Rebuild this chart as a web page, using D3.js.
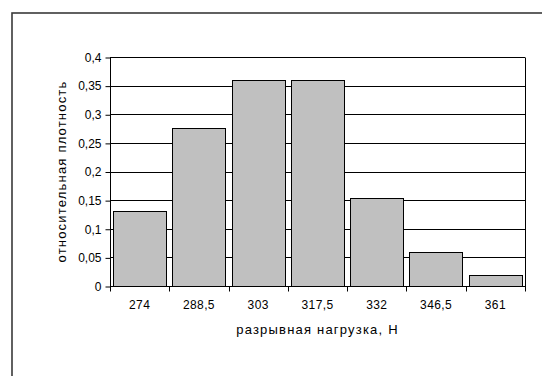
<!DOCTYPE html>
<html>
<head>
<meta charset="utf-8">
<script src="https://cdn.jsdelivr.net/npm/d3@7"></script>
<style>
  html, body { margin: 0; padding: 0; background: #fff; }
  svg { display: block; }
  text { font-family: "Liberation Sans", Arial, sans-serif; fill: #000; }
</style>
</head>
<body>
<svg id="chart" width="542" height="376"></svg>
<script>
// Histogram of breaking load: relative density per class midpoint
const categories = ["274", "288,5", "303", "317,5", "332", "346,5", "361"];
const density = [0.131, 0.276, 0.36, 0.36, 0.153, 0.059, 0.019];
const yTickValues = [0, 0.05, 0.1, 0.15, 0.2, 0.25, 0.3, 0.35, 0.4];
const yTickLabels = ["0", "0,05", "0,1", "0,15", "0,2", "0,25", "0,3", "0,35", "0,4"];
const xTitle = "разрывная нагрузка, Н";
const yTitle = "относительная плотность";

const svg = d3.select("#chart");
const plot = { left: 110, right: 525, top: 57, bottom: 286 };

// Outer chart frame (runs past the right and bottom edges)
svg.append("rect")
  .attr("x", 12).attr("y", 13)
  .attr("width", 700).attr("height", 500)
  .attr("fill", "#fff")
  .attr("stroke", "#3a3a3a").attr("stroke-width", 1.6);

const x = d3.scaleBand()
  .domain(categories)
  .range([plot.left, plot.right])
  .paddingInner(0.1)
  .paddingOuter(0.05);

const y = d3.scaleLinear()
  .domain([0, 0.4])
  .range([plot.bottom, plot.top]);

// Horizontal gridlines
svg.append("g")
  .selectAll("line")
  .data(yTickValues.slice(1))
  .join("line")
  .attr("x1", plot.left).attr("x2", plot.right)
  .attr("y1", d => Math.round(y(d)) + 0.5)
  .attr("y2", d => Math.round(y(d)) + 0.5)
  .attr("stroke", "#000").attr("stroke-width", 1);

// Right border of the plot area
svg.append("line")
  .attr("x1", plot.right + 0.5).attr("x2", plot.right + 0.5)
  .attr("y1", Math.round(y(0.4)) + 0.5).attr("y2", plot.bottom + 0.5)
  .attr("stroke", "#000");

// Bars
svg.append("g")
  .selectAll("rect")
  .data(categories.map((c, i) => ({ c, v: density[i] })))
  .join("rect")
  .attr("x", d => Math.round(x(d.c)) + 0.5)
  .attr("y", d => Math.round(y(d.v)) + 0.5)
  .attr("width", Math.round(x.bandwidth()))
  .attr("height", d => Math.round(y(0)) - Math.round(y(d.v)))
  .attr("fill", "#c0c0c0")
  .attr("stroke", "#000").attr("stroke-width", 1);

// Y axis
const yAxis = d3.axisLeft(y)
  .tickValues(yTickValues)
  .tickFormat((d, i) => yTickLabels[i])
  .tickSize(5)
  .tickPadding(4);
const gy = svg.append("g")
  .attr("transform", `translate(${plot.left + 0.5},0.5)`)
  .call(yAxis);
gy.select(".domain").attr("d", `M-0,${y(0.4)}V${y(0)}`).attr("stroke", "#000");
gy.selectAll("text").attr("font-size", 12).attr("font-family", "Liberation Sans, Arial, sans-serif");

// X axis: ticks sit on category boundaries
const xAxis = d3.axisBottom(x).tickSize(0).tickPadding(14);
const gx = svg.append("g")
  .attr("transform", `translate(0,${plot.bottom + 0.5})`)
  .call(xAxis);
gx.select(".domain").attr("d", `M${plot.left},0H${plot.right + 1}`).attr("stroke", "#000");
gx.selectAll("text").attr("font-size", 12).attr("letter-spacing", 0.4)
  .attr("font-family", "Liberation Sans, Arial, sans-serif");

const boundaries = d3.range(categories.length + 1).map(i => plot.left + i * (plot.right - plot.left) / categories.length);
gx.append("g").selectAll("line")
  .data(boundaries)
  .join("line")
  .attr("x1", d => Math.round(d) + 0.5).attr("x2", d => Math.round(d) + 0.5)
  .attr("y1", 0).attr("y2", 5)
  .attr("stroke", "#000");

// Axis titles
svg.append("text")
  .attr("x", (plot.left + plot.right) / 2)
  .attr("y", 334)
  .attr("text-anchor", "middle")
  .attr("font-size", 13)
  .attr("letter-spacing", 1.2)
  .text(xTitle);

svg.append("text")
  .attr("transform", `translate(66,${(plot.top + plot.bottom) / 2}) rotate(-90)`)
  .attr("text-anchor", "middle")
  .attr("font-size", 13)
  .attr("letter-spacing", 1.2)
  .text(yTitle);
</script>
</body>
</html>
